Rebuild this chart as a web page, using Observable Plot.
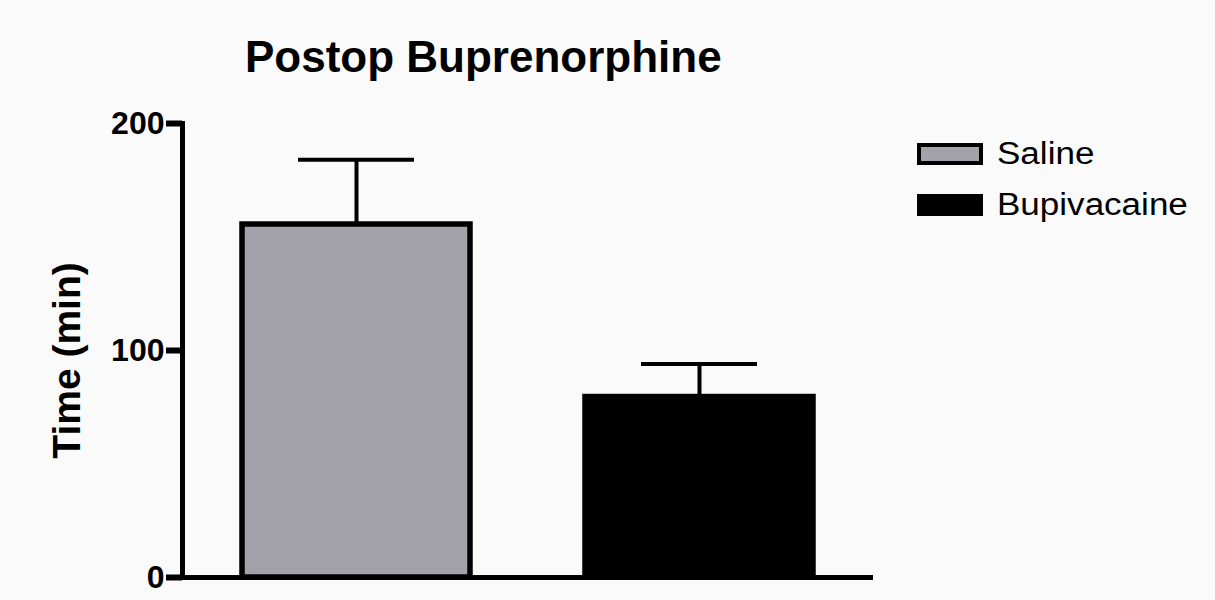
<!DOCTYPE html>
<html>
<head>
<meta charset="utf-8">
<script src="https://cdn.jsdelivr.net/npm/d3@7"></script>
<script src="https://cdn.jsdelivr.net/npm/@observablehq/plot@0.6"></script>
<style>
  html, body { margin: 0; padding: 0; background: #fafafa; }
  #wrap { position: relative; width: 1215px; height: 600px; font-family: "Liberation Sans", Arial, Helvetica, sans-serif; color: #000; }
  #title { height: 90px; position: relative; }
  #title span { position: absolute; left: 245px; top: 35px; font-size: 44px; line-height: 44px; font-weight: bold; white-space: nowrap; }
  #legend { position: absolute; left: 917px; top: 0; }
  .row { position: absolute; left: 0; height: 50px; display: flex; align-items: center; white-space: nowrap; }
  .sw { width: 66px; height: 22px; box-sizing: border-box; border: 4px solid #000; }
  .lab { margin-left: 14px; font-size: 31px; line-height: 50px; display: inline-block; transform: scaleX(1.13); transform-origin: left center; }
</style>
</head>
<body>
<div id="wrap">
  <div id="title"><span></span></div>
  <div id="chart"></div>
  <div id="legend"></div>
</div>
<script>
// ---- data ----
const title = "Postop Buprenorphine";
const yLabel = "Time (min)";
const categories = ["Saline", "Bupivacaine"];
const means = [155.5, 79.5];
const upperErrors = [184, 94];
const yTicks = [0, 100, 200];
const barColors = ["#a3a2aa", "#000000"];

const data = categories.map((g, i) => ({group: g, mean: means[i], upper: upperErrors[i]}));

document.querySelector("#title span").textContent = title;

const chart = Plot.plot({
  width: 1215,
  height: 510,
  marginTop: 33,
  marginBottom: 23,
  marginLeft: 182,
  marginRight: 342,
  style: {background: "transparent", fontFamily: "'Liberation Sans', Arial, Helvetica, sans-serif", color: "#000"},
  x: {domain: categories, paddingInner: 0.336, paddingOuter: 0.174, axis: null},
  y: {domain: [0, 200], axis: null},
  color: {domain: categories, range: barColors},
  marks: [
    Plot.ruleX(data, {x: "group", y1: "mean", y2: "upper", stroke: "#000", strokeWidth: 4}),
    Plot.tickY(data, {x: "group", y: "upper", stroke: "#000", strokeWidth: 4, insetLeft: 56, insetRight: 56}),
    Plot.barY(data, {x: "group", y: "mean", fill: "group", stroke: "#000", strokeWidth: 5.5}),
    Plot.frame({anchor: "left", stroke: "#000", strokeWidth: 5}),
    Plot.axisY({ticks: yTicks, tickFormat: d => String(d), tickSize: 16, tickPadding: 2, strokeWidth: 6, fontSize: 32, fontWeight: "bold", label: null}),
    Plot.ruleY([0], {stroke: "#000", strokeWidth: 5, insetLeft: -16}),
    Plot.text([yLabel], {frameAnchor: "left", textAnchor: "middle", dx: -115, dy: 10, rotate: -90, fontSize: 39, fontWeight: "bold", fill: "#000"})
  ]
});
document.getElementById("chart").appendChild(chart);

// legend
const legend = document.getElementById("legend");
const rowCenters = [154, 205];
categories.forEach((g, i) => {
  const row = document.createElement("div");
  row.className = "row";
  row.style.top = (rowCenters[i] - 25) + "px";
  const sw = document.createElement("div");
  sw.className = "sw";
  sw.style.background = barColors[i];
  const lab = document.createElement("span");
  lab.className = "lab";
  lab.textContent = g;
  row.appendChild(sw);
  row.appendChild(lab);
  legend.appendChild(row);
});
</script>
</body>
</html>
